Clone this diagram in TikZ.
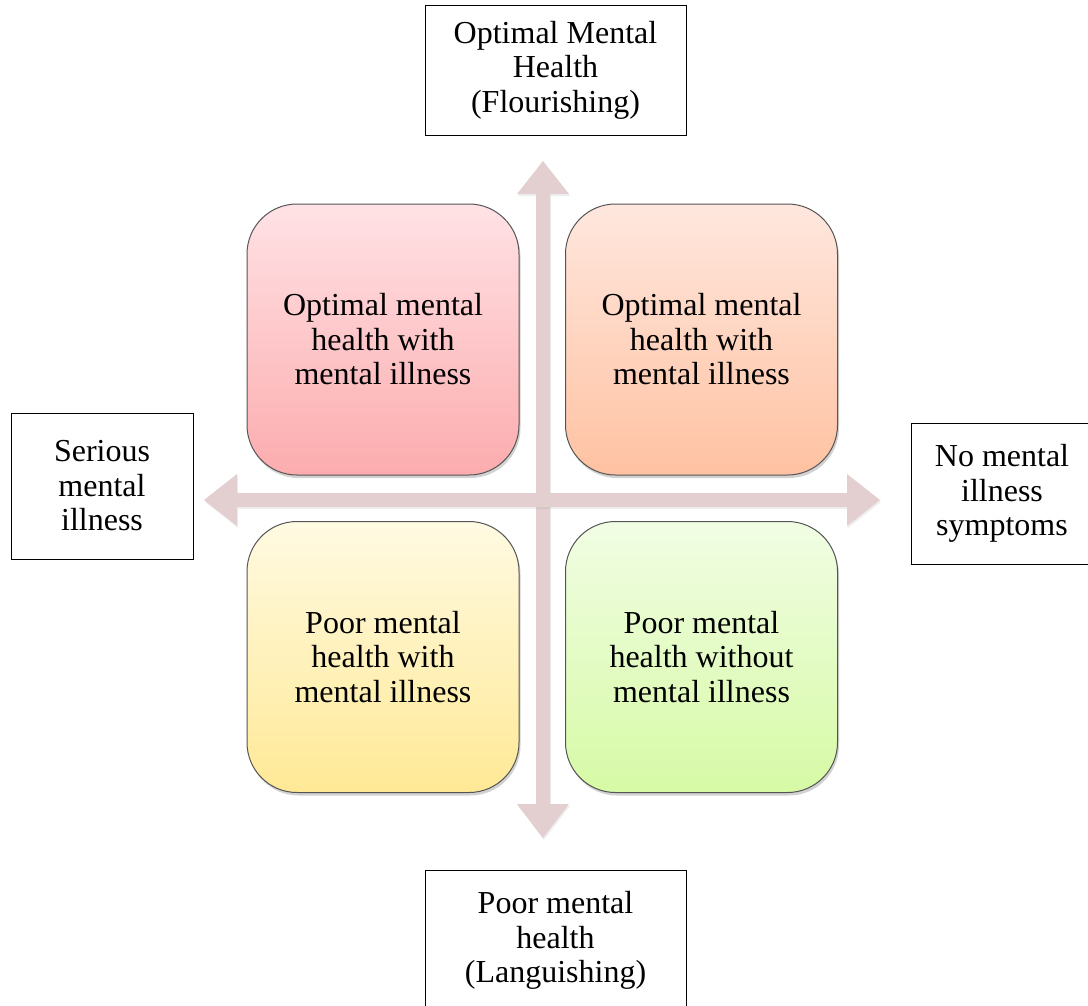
\documentclass[tikz,border=0pt]{standalone}
\usepackage{fontspec}
\setmainfont{Liberation Serif}
\usetikzlibrary{shadows}

\definecolor{axisfill}{RGB}{227,206,208}
\definecolor{pinkTop}{RGB}{255,226,229}
\definecolor{pinkBot}{RGB}{252,172,174}
\definecolor{peachTop}{RGB}{255,231,222}
\definecolor{peachBot}{RGB}{255,194,162}
\definecolor{yellowTop}{RGB}{255,250,226}
\definecolor{yellowBot}{RGB}{255,233,150}
\definecolor{greenTop}{RGB}{241,253,228}
\definecolor{greenBot}{RGB}{214,250,165}
\definecolor{tileEdge}{RGB}{85,85,85}

\tikzset{
  txt/.style={font=\fontsize{32}{34.5}\selectfont, align=center, text=black},
  tile/.style={txt, rounded corners=50pt, draw=tileEdge, line width=1pt,
    minimum width=272pt, minimum height=271pt, inner sep=0pt,
    drop shadow={opacity=0.35, shadow xshift=1.5pt, shadow yshift=-3pt}},
  labelbox/.style={txt, draw=black, line width=1pt, fill=white, inner sep=0pt},
  axis/.style={fill=axisfill,
    drop shadow={opacity=0.12, shadow xshift=1pt, shadow yshift=-2pt}}
}

\begin{document}
\begin{tikzpicture}[x=1pt, y=-1pt]
\useasboundingbox (0,0) rectangle (1088,1005);
\fill[white] (0,0) rectangle (1088,1005);

% two-headed axes
\coordinate (vtop) at (543,161);
\coordinate (vbot) at (543,838);
\coordinate (hleft) at (204,500);
\coordinate (hright) at (880,500);
\path[axis] (vtop) -- ++(26,33) -- ++(-19,0) -- (550,804) -- ++(19,0)
  -- (vbot) -- (517,804) -- ++(19,0) -- (536,194) -- ++(-19,0) -- cycle;
\path[axis] (hleft) -- ++(33,-26) -- ++(0,19) -- (847,493) -- ++(0,-19)
  -- (hright) -- (847,526) -- ++(0,-19) -- (237,507) -- ++(0,19) -- cycle;

% four quadrant tiles
\node[tile, top color=pinkTop, bottom color=pinkBot] (q1) at (383,339.5)
  {Optimal mental\\health with\\mental illness};
\node[tile, top color=peachTop, bottom color=peachBot] (q2) at (701.5,339.5)
  {Optimal mental\\health with\\mental illness};
\node[tile, top color=yellowTop, bottom color=yellowBot] (q3) at (383,657)
  {Poor mental\\health with\\mental illness};
\node[tile, top color=greenTop, bottom color=greenBot] (q4) at (701.5,657)
  {Poor mental\\health without\\mental illness};

% axis end labels
\node[labelbox, minimum width=261pt, minimum height=130pt] (top) at (555.5,70)
  {Optimal Mental\\Health\\(Flourishing)};
\node[labelbox, minimum width=182pt, minimum height=146pt] (left) at (102,486)
  {Serious\\mental\\illness};
\node[labelbox, minimum width=182pt, minimum height=141pt] (right) at (1002,493.5)
  {No mental\\illness\\symptoms};
\node[labelbox, minimum width=261pt, minimum height=140pt, anchor=north] (bottom)
  at (555.5,870) {Poor mental\\health\\(Languishing)};
\end{tikzpicture}
\end{document}
